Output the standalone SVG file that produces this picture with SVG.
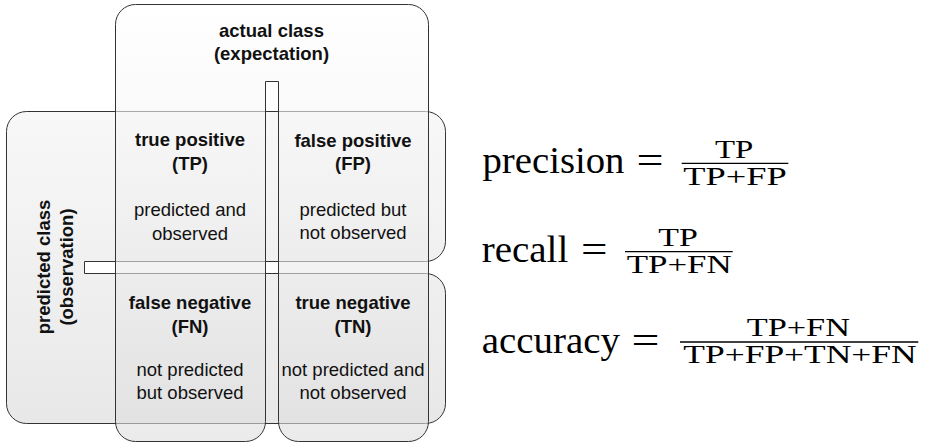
<svg xmlns="http://www.w3.org/2000/svg" width="928" height="444" viewBox="0 0 928 444">
  <defs>
    <linearGradient id="gPred" x1="0" y1="0" x2="0" y2="1">
      <stop offset="0" stop-color="#f8f8f8"/>
      <stop offset="1" stop-color="#e8e8e8"/>
    </linearGradient>
    <linearGradient id="gAct" x1="0" y1="0" x2="0" y2="1">
      <stop offset="0" stop-color="#ffffff"/>
      <stop offset="1" stop-color="#dddddd"/>
    </linearGradient>
  </defs>
  <style>
    .shape { stroke: #333333; stroke-width: 1; }
    .pred { fill: url(#gPred); }
    .act { fill: url(#gAct); fill-opacity: 0.6; }
    .b { font-family: "Liberation Sans", Arial, Helvetica, sans-serif; font-size: 18.5px; font-weight: bold; fill: #111111; text-anchor: middle; }
    .n { font-family: "Liberation Sans", Arial, Helvetica, sans-serif; font-size: 18.5px; fill: #111111; text-anchor: middle; }
    .m { font-family: "Liberation Serif", "Times New Roman", serif; font-size: 38px; fill: #000000; }
    .f { font-family: "Liberation Serif", "Times New Roman", serif; font-size: 25px; fill: #000000; }
    .bar { stroke: #000000; stroke-width: 1.3; }
  </style>

  <g id="predicted-class">
    <path class="shape pred" d="M6.5,131.5 A20,20 0 0 1 26.5,111.5 H425.5 A20,20 0 0 1 445.5,131.5 V241.5 A20,20 0 0 1 425.5,261.5 H84.5 V273.5 H425.5 A20,20 0 0 1 445.5,293.5 V403.5 A20,20 0 0 1 425.5,423.5 H26.5 A20,20 0 0 1 6.5,403.5 Z"/>
    <text class="b" transform="translate(50,267) rotate(-90)">predicted class</text>
    <text class="b" transform="translate(73,267) rotate(-90)">(observation)</text>
  </g>

  <g id="actual-class">
    <path class="shape act" d="M115.5,24.5 A20,20 0 0 1 135.5,4.5 H408.5 A20,20 0 0 1 428.5,24.5 V421.5 A20,20 0 0 1 408.5,441.5 H298.5 A20,20 0 0 1 278.5,421.5 V81.5 H265.5 V421.5 A20,20 0 0 1 245.5,441.5 H135.5 A20,20 0 0 1 115.5,421.5 Z"/>
    <text class="b" x="271.5" y="36.5">actual class</text>
    <text class="b" x="271.5" y="60">(expectation)</text>
  </g>

  <g id="connectors"/>

  <g id="true-positive">
    <text class="b" x="190" y="146">true positive</text>
    <text class="b" x="190" y="170">(TP)</text>
    <text class="n" x="190" y="216">predicted and</text>
    <text class="n" x="190" y="239.5">observed</text>
  </g>

  <g id="false-positive">
    <text class="b" x="353" y="146.5">false positive</text>
    <text class="b" x="353" y="170">(FP)</text>
    <text class="n" x="353" y="215.5">predicted but</text>
    <text class="n" x="353" y="239">not observed</text>
  </g>

  <g id="false-negative">
    <text class="b" x="190" y="309">false negative</text>
    <text class="b" x="190" y="333">(FN)</text>
    <text class="n" x="190" y="376">not predicted</text>
    <text class="n" x="190" y="398.5">but observed</text>
  </g>

  <g id="true-negative">
    <text class="b" x="353" y="309">true negative</text>
    <text class="b" x="353" y="333">(TN)</text>
    <text class="n" x="353" y="376">not predicted and</text>
    <text class="n" x="353" y="398.5">not observed</text>
  </g>

  <g id="precision">
    <text class="m" x="482.5" y="173.3" textLength="142" lengthAdjust="spacingAndGlyphs">precision</text>
    <text class="m" x="636.5" y="173.3" textLength="27" lengthAdjust="spacingAndGlyphs">=</text>
    <line class="bar" x1="681.7" y1="163.3" x2="788.3" y2="163.3"/>
    <text class="f" x="715" y="157.5" textLength="38.3" lengthAdjust="spacingAndGlyphs">TP</text>
    <text class="f" x="683.3" y="184.5" textLength="103.4" lengthAdjust="spacingAndGlyphs">TP+FP</text>
  </g>

  <g id="recall">
    <text class="m" x="481.7" y="261.7" textLength="86.6" lengthAdjust="spacingAndGlyphs">recall</text>
    <text class="m" x="581" y="261.7" textLength="26.5" lengthAdjust="spacingAndGlyphs">=</text>
    <line class="bar" x1="625" y1="251.7" x2="732.7" y2="251.7"/>
    <text class="f" x="658.3" y="246" textLength="39.5" lengthAdjust="spacingAndGlyphs">TP</text>
    <text class="f" x="626.7" y="273" textLength="105" lengthAdjust="spacingAndGlyphs">TP+FN</text>
  </g>

  <g id="accuracy">
    <text class="m" x="481.7" y="353" textLength="138.3" lengthAdjust="spacingAndGlyphs">accuracy</text>
    <text class="m" x="631.5" y="353" textLength="28" lengthAdjust="spacingAndGlyphs">=</text>
    <line class="bar" x1="680" y1="342" x2="918.3" y2="342"/>
    <text class="f" x="746.7" y="335.5" textLength="103.3" lengthAdjust="spacingAndGlyphs">TP+FN</text>
    <text class="f" x="683.3" y="363.3" textLength="233.4" lengthAdjust="spacingAndGlyphs">TP+FP+TN+FN</text>
  </g>
</svg>
